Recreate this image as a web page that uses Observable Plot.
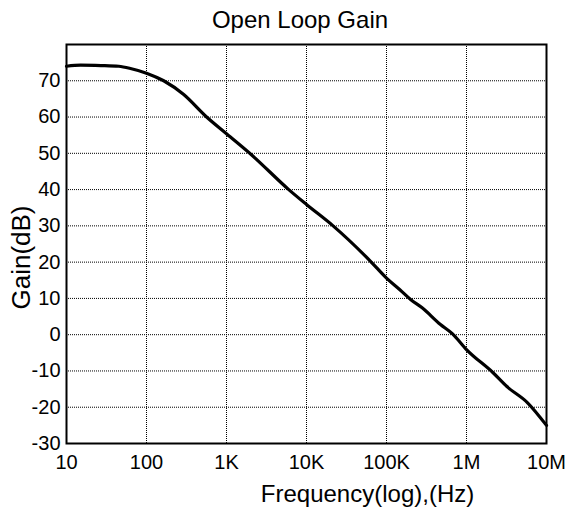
<!DOCTYPE html>
<html>
<head>
<meta charset="utf-8">
<script src="https://cdn.jsdelivr.net/npm/d3@7"></script>
<script src="https://cdn.jsdelivr.net/npm/@observablehq/plot@0.6"></script>
<style>
  html, body { margin: 0; padding: 0; background: #fff; }
  #title {
    width: 570px; box-sizing: border-box; height: 38px; padding-top: 8px;
    font-family: "Liberation Sans", Arial, sans-serif; font-size: 24px; line-height: 24px;
    text-align: center; color: #000; padding-left: 30px;
  }
  svg { display: block; }
</style>
</head>
<body>
<div id="title"></div>
<div id="chart"></div>
<script>
const titleText = "Open Loop Gain";
const xLabel = "Frequency(log),(Hz)";
const yLabel = "Gain(dB)";

// Curve
const freq = [10, 15, 27, 45, 63, 100, 164, 292, 546, 1000, 2100, 6000, 10000, 21500, 62700, 100000, 147000, 200000, 279000, 473000, 664000, 1000000, 2150000, 3200000, 5760000, 10000000];
const gain = [74.0, 74.3, 74.2, 74.0, 73.4, 72.1, 70.0, 66.2, 60.3, 55.4, 49.4, 40.0, 35.9, 30.0, 20.3, 15.6, 12.4, 9.7, 7.4, 2.8, 0.3, -4.1, -10.5, -14.3, -18.7, -25.0];

// Axes
const xTicks = [10, 100, 1e3, 1e4, 1e5, 1e6, 1e7];
const xTickLabels = ["10", "100", "1K", "10K", "100K", "1M", "10M"];
const xGrid = [100, 1e3, 1e4, 1e5, 1e6];
const yTicks = [-30, -20, -10, 0, 10, 20, 30, 40, 50, 60, 70];
const yGrid = [-20, -10, 0, 10, 20, 30, 40, 50, 60, 70];
const xDomain = [10, 1e7];
const yDomain = [-30, 80];

document.getElementById("title").textContent = titleText;

const rows = freq.map((f, i) => ({f, g: gain[i]}));
const gridStyle = {stroke: "#000", strokeOpacity: 1, strokeWidth: 1, strokeDasharray: "1,1"};

const chart = Plot.plot({
  width: 570,
  height: 474,
  marginTop: 6,
  marginBottom: 69,
  marginLeft: 66,
  marginRight: 24,
  x: {type: "log", domain: xDomain},
  y: {domain: yDomain},
  style: {fontFamily: "Liberation Sans, Arial, sans-serif", fontSize: "20px", background: "#fff", color: "#000", overflow: "visible"},
  marks: [
    Plot.gridX(xGrid, gridStyle),
    Plot.gridY(yGrid, gridStyle),
    Plot.line(rows, {x: "f", y: "g", curve: "monotone-x", stroke: "#000", strokeWidth: 3.2}),
    Plot.frame({stroke: "#000", strokeWidth: 2}),
    Plot.axisX(xTicks, {tickSize: 0, tickPadding: 11, tickFormat: d => xTickLabels[xTicks.indexOf(d)], label: null, fontSize: 20}),
    Plot.axisY(yTicks, {tickSize: 0, tickPadding: 6, tickFormat: d => String(d), label: null, fontSize: 20}),
    Plot.text([xLabel], {text: d => d, frameAnchor: "bottom", textAnchor: "middle", lineAnchor: "middle", dx: 61, dy: 51, fontSize: 24, fill: "#000"}),
    Plot.text([yLabel], {text: d => d, frameAnchor: "left", textAnchor: "middle", lineAnchor: "middle", rotate: -90, dx: -45, dy: 13.5, fontSize: 26, fill: "#000"})
  ]
});
document.getElementById("chart").appendChild(chart);
</script>
</body>
</html>
